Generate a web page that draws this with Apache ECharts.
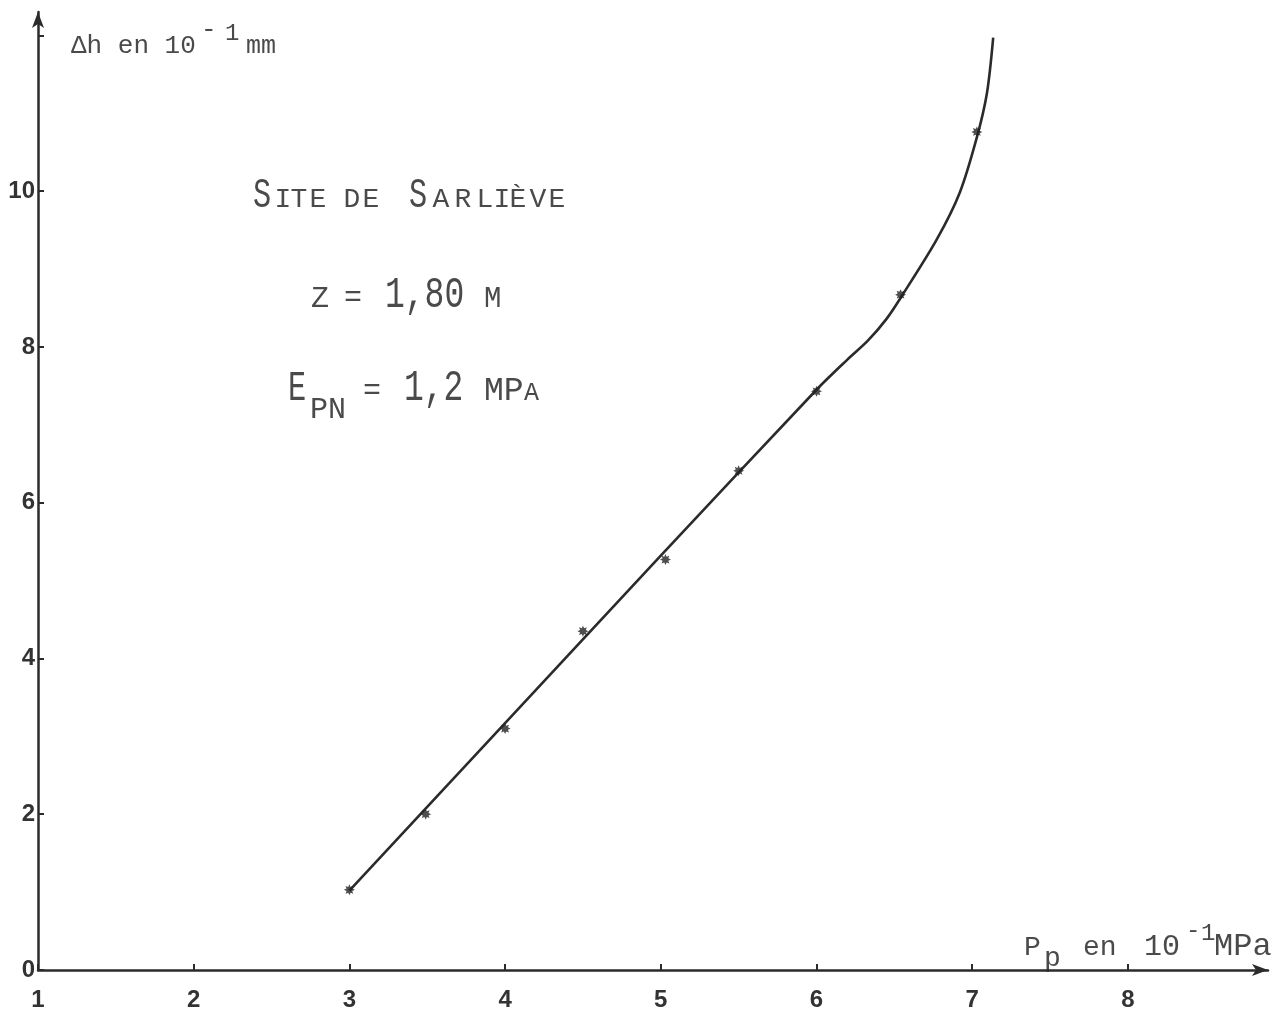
<!DOCTYPE html>
<html>
<head>
<meta charset="utf-8">
<script src="https://cdn.jsdelivr.net/npm/echarts@6/dist/echarts.min.js"></script>
<style>
  html, body { margin: 0; padding: 0; background: #fff; }
  #chart { width: 1279px; height: 1015px; }
</style>
</head>
<body>
<div id="chart"></div>
<script>
// Pressuremeter test, Sarlieve site: settlement vs applied pressure
const pressureObs = [3.0, 3.49, 4.0, 4.5, 5.03, 5.5, 6.0, 6.54, 7.03];     // Pp (10^-1 MPa)
const settlementObs = [1.03, 2.0, 3.1, 4.35, 5.27, 6.41, 7.43, 8.67, 10.76]; // Δh (10^-1 mm)

// Hand-drawn fitted curve
const curveP = [3.0, 4.0, 5.0, 6.0, 6.2, 6.33, 6.45, 6.55, 6.77, 6.92, 7.03, 7.095, 7.135];
const curveH = [1.02, 3.17, 5.32, 7.45, 7.84, 8.08, 8.36, 8.66, 9.37, 9.98, 10.69, 11.26, 11.97];

const xTicks = [1, 2, 3, 4, 5, 6, 7, 8];
const yTicks = [0, 2, 4, 6, 8, 10];

const ink = '#2b2b2b';
const letterInk = '#4a4a4a';
const letterFont = '"Liberation Mono", "DejaVu Sans Mono", monospace';
const starPath = 'path://M5,0 L2.6,1.08 L3.54,3.54 L1.08,2.6 L0,5 L-1.08,2.6 L-3.54,3.54 L-2.6,1.08 L-5,0 L-2.6,-1.08 L-3.54,-3.54 L-1.08,-2.6 L0,-5 L1.08,-2.6 L3.54,-3.54 L2.6,-1.08 Z';

// one lettering piece, anchored on its baseline
function piece(text, x, baseline, size, scaleX, align) {
  return {
    type: 'text',
    x: x,
    y: baseline - 0.27 * size,
    scaleX: scaleX || 1,
    silent: true,
    style: {
      x: 0, y: 0,
      text: text,
      font: size + 'px ' + letterFont,
      fill: letterInk,
      textAlign: align || 'left', align: align || 'left',
      textVerticalAlign: 'middle', verticalAlign: 'middle'
    }
  };
}

// single letters centred on given positions (stencil-style spacing)
function letters(chars, centers, baseline, size, scaleX) {
  return chars.split('').map((c, i) => piece(c, centers[i], baseline, size, scaleX, 'center'));
}

const chart = echarts.init(document.getElementById('chart'));

chart.setOption({
  backgroundColor: '#ffffff',
  animation: false,
  grid: { left: 38, right: 11, top: 12, bottom: 45, containLabel: false },
  xAxis: {
    type: 'value',
    min: 1, max: 8.9, interval: 1,
    axisLine: { show: true, onZero: false, symbol: ['none', 'arrow'], symbolSize: [9, 16], lineStyle: { color: ink, width: 2.5 } },
    axisTick: { show: true, inside: true, length: 6, lineStyle: { color: ink, width: 2 } },
    axisLabel: {
      showMaxLabel: false, margin: 18, color: '#333',
      fontFamily: '"Liberation Sans", Arial, sans-serif', fontWeight: 'bold', fontSize: 24,
      formatter: v => (xTicks.includes(v) ? String(v) : '')
    },
    splitLine: { show: false }
  },
  yAxis: {
    type: 'value',
    min: 0, max: 12.3, interval: 2,
    axisLine: { show: true, onZero: false, symbol: ['none', 'arrow'], symbolSize: [9, 16], lineStyle: { color: ink, width: 2.5 } },
    axisTick: { show: true, inside: true, length: 6, lineStyle: { color: ink, width: 2 } },
    axisLabel: {
      showMaxLabel: false, margin: 3, color: '#333',
      fontFamily: '"Liberation Sans", Arial, sans-serif', fontWeight: 'bold', fontSize: 24,
      formatter: v => (yTicks.includes(v) ? String(v) : '')
    },
    splitLine: { show: false }
  },
  series: [
    {
      type: 'line',
      data: curveP.map((p, i) => [p, curveH[i]]),
      smooth: 0.3,
      showSymbol: false,
      lineStyle: { color: ink, width: 2.6 },
      z: 2
    },
    {
      type: 'scatter',
      data: pressureObs.map((p, i) => [p, settlementObs[i]]),
      symbol: starPath,
      symbolSize: 11,
      itemStyle: { color: '#222' },
      z: 3
    }
  ],
  graphic: [].concat(
    // y axis name: Δh en 10^-1 mm
    [
      piece('Δh en 10', 71, 53, 26),
      piece('-', 201, 37, 26),
      piece('1', 225, 40, 24),
      piece('mm', 246, 53, 25)
    ],
    // x axis name: Pp en 10^-1 MPa
    [
      piece('P', 1024, 955, 28),
      piece('p', 1044, 966, 28),
      piece('en', 1083, 955, 28),
      piece('10', 1144, 955, 30),
      piece('-', 1186, 937, 24),
      piece('1', 1201, 940, 24),
      piece('MPa', 1214, 955, 32)
    ],
    // site title in small capitals
    letters('S', [262], 207, 42, 0.72),
    letters('ITE', [283, 299, 318], 207, 28),
    letters('DE', [352, 371], 207, 28),
    letters('S', [418], 207, 42, 0.72),
    letters('ARLIÈVE', [441, 463, 485, 502, 518, 538, 557], 207, 28),
    // depth
    [
      piece('Z', 311, 307, 30),
      piece('=', 344, 306, 30),
      piece('1,80', 385, 307, 44, 0.75),
      piece('M', 484, 307, 29)
    ],
    // pressuremeter modulus
    [
      piece('E', 288, 400, 42, 0.72),
      piece('PN', 310, 418, 30),
      piece('=', 363, 399, 30),
      piece('1,2', 404, 400, 44, 0.75),
      piece('MP', 484, 400, 33),
      piece('A', 524, 400, 25)
    ]
  )
});
</script>
</body>
</html>
